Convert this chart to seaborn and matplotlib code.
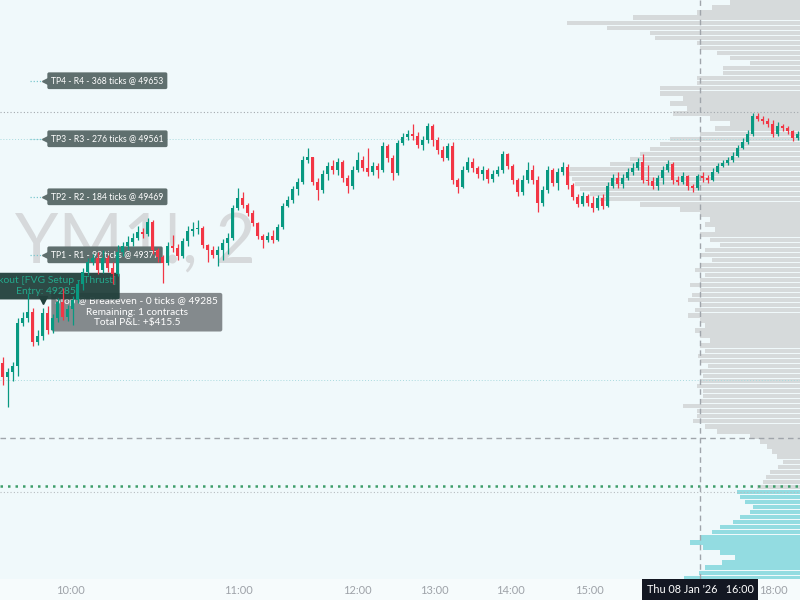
import numpy as np
import pandas as pd
import seaborn as sns
import matplotlib.pyplot as plt

# YM1! 2-minute candles (open = previous close)
first_open = 49205
close = [49183, 49191, 49201, 49269, 49277, 49286, 49239, 49248, 49285, 49258,
         49277, 49302, 49278, 49291, 49305, 49331, 49350, 49365, 49372, 49353,
         49372, 49356, 49346, 49381, 49391, 49397, 49403, 49413, 49410, 49429,
         49384, 49373, 49364, 49391, 49388, 49375, 49399, 49415, 49418, 49419,
         49392, 49384, 49377, 49384, 49396, 49403, 49451, 49467, 49456, 49443,
         49427, 49407, 49400, 49407, 49400, 49421, 49454, 49464, 49481, 49492,
         49527, 49532, 49492, 49480, 49505, 49518, 49511, 49524, 49499, 49486,
         49511, 49527, 49515, 49508, 49518, 49511, 49549, 49530, 49507, 49554,
         49564, 49569, 49565, 49551, 49559, 49581, 49559, 49543, 49530, 49549,
         49495, 49484, 49511, 49524, 49515, 49505, 49511, 49497, 49505, 49511,
         49537, 49518, 49495, 49476, 49495, 49511, 49495, 49459, 49480, 49511,
         49491, 49508, 49516, 49488, 49469, 49457, 49470, 49459, 49451, 49467,
         49454, 49486, 49499, 49489, 49499, 49508, 49515, 49524, 49495, 49494,
         49486, 49499, 49511, 49521, 49495, 49492, 49502, 49486, 49483, 49502,
         49499, 49495, 49508, 49518, 49522, 49527, 49534, 49546, 49556, 49569,
         49597, 49592, 49589, 49584, 49569, 49581, 49578, 49573, 49562, 49569]
high = [49215, 49197, 49207, 49277, 49286, 49316, 49293, 49258, 49293, 49296,
        49283, 49308, 49324, 49297, 49312, 49337, 49356, 49372, 49378, 49381,
        49384, 49377, 49365, 49392, 49397, 49407, 49411, 49423, 49419, 49435,
        49432, 49388, 49377, 49397, 49408, 49394, 49403, 49423, 49429, 49432,
        49423, 49394, 49391, 49391, 49402, 49411, 49456, 49483, 49476, 49459,
        49448, 49429, 49410, 49413, 49416, 49426, 49459, 49470, 49486, 49499,
        49534, 49546, 49530, 49499, 49511, 49524, 49527, 49530, 49527, 49503,
        49518, 49540, 49534, 49546, 49524, 49522, 49556, 49553, 49535, 49559,
        49570, 49575, 49584, 49572, 49565, 49586, 49584, 49564, 49549, 49554,
        49556, 49499, 49518, 49532, 49530, 49518, 49518, 49515, 49511, 49518,
        49542, 49538, 49521, 49499, 49503, 49524, 49519, 49502, 49486, 49518,
        49515, 49515, 49524, 49521, 49491, 49473, 49476, 49473, 49470, 49472,
        49473, 49492, 49505, 49508, 49505, 49515, 49522, 49530, 49537, 49519,
        49500, 49503, 49518, 49527, 49524, 49502, 49508, 49503, 49489, 49505,
        49508, 49503, 49515, 49522, 49527, 49532, 49540, 49551, 49562, 49575,
        49602, 49602, 49597, 49594, 49591, 49588, 49584, 49581, 49575, 49573]
low = [49170, 49136, 49177, 49185, 49264, 49270, 49232, 49234, 49242, 49251,
       49253, 49270, 49274, 49272, 49266, 49300, 49321, 49345, 49361, 49346,
       49348, 49350, 49331, 49343, 49375, 49384, 49391, 49400, 49403, 49407,
       49378, 49365, 49332, 49361, 49381, 49369, 49372, 49391, 49407, 49410,
       49388, 49365, 49372, 49359, 49369, 49378, 49400, 49448, 49451, 49438,
       49423, 49402, 49388, 49397, 49396, 49399, 49418, 49453, 49459, 49472,
       49489, 49522, 49488, 49464, 49475, 49495, 49505, 49503, 49492, 49475,
       49481, 49508, 49510, 49502, 49503, 49499, 49508, 49524, 49495, 49503,
       49551, 49559, 49559, 49546, 49543, 49554, 49549, 49537, 49526, 49527,
       49489, 49475, 49483, 49508, 49508, 49499, 49495, 49491, 49492, 49502,
       49507, 49513, 49489, 49470, 49472, 49491, 49489, 49445, 49454, 49475,
       49486, 49480, 49503, 49481, 49464, 49453, 49454, 49454, 49445, 49448,
       49449, 49453, 49483, 49483, 49483, 49495, 49503, 49511, 49491, 49488,
       49481, 49480, 49489, 49508, 49489, 49488, 49489, 49480, 49476, 49480,
       49492, 49491, 49494, 49507, 49516, 49519, 49524, 49532, 49545, 49553,
       49565, 49589, 49584, 49580, 49564, 49565, 49573, 49569, 49557, 49559]

# volume profile, rows of 8 points from the top of the screen
profile_top = 49777
profile_step = 8
profile_vol = [70, 88, 103, 167, 233, 193, 150, 145, 103, 100,
               83, 70, 50, 77, 77, 103, 103, 140, 140, 117,
               130, 113, 127, 90, 70, 85, 100, 130, 140, 150,
               160, 170, 190, 230, 233, 228, 225, 220, 210, 200,
               160, 120, 100, 90, 95, 85, 100, 90, 80, 95,
               100, 88, 100, 105, 95, 100, 110, 100, 108, 112,
               100, 105, 112, 100, 95, 105, 100, 90, 100, 95,
               102, 100, 92, 100, 97, 100, 103, 97, 97, 100,
               117, 103, 103, 107, 95, 83, 50, 40, 33, 28,
               23, 17, 22, 30, 34, 37, 43, 63, 60, 55,
               47, 50, 60, 67, 80, 88, 100, 110, 97, 80,
               65, 78, 95, 101, 116, 142]
value_area_low = 49011

# trade levels and labels
tp_prices = [49653, 49561, 49469, 49377]
tp_texts = ['TP4 - R4 - 368 ticks @ 49653', 'TP3 - R3 - 276 ticks @ 49561',
            'TP2 - R2 - 184 ticks @ 49469', 'TP1 - R1 - 92 ticks @ 49377']
entry_price = 49285
entry_text = 'Breakout [FVG Setup - Thrust]\nEntry: 49285'
stop_text = 'Stop @ Breakeven - 0 ticks @ 49285\nRemaining: 1 contracts\nTotal P&L: +$415.5'
high_level = 49604
faint_levels = [49561, 49179]
low_level = 49001

time_ticks = [13.5, 47.1, 70.9, 86.3, 101.5, 117.3, 154.1]
time_labels = ['10:00', '11:00', '12:00', '13:00', '14:00', '15:00', '18:00']
cross_bar = 139.5
cross_price = 49087
cross_text = "Thu 08 Jan '26   16:00"

sns.set_theme(style='white')
plt.rcParams['font.family'] = ['Lato', 'DejaVu Sans']

df = pd.DataFrame({'close': close, 'high': high, 'low': low})
df['open'] = df['close'].shift(1).fillna(first_open)
df['high'] = df[['high', 'open', 'close']].max(axis=1)
df['low'] = df[['low', 'open', 'close']].min(axis=1)
up = df['close'] >= df['open']
colors = np.where(up, '#089981', '#F23645')

fig = plt.figure(figsize=(8, 6), dpi=100, facecolor='#F6FBFC')
rect = [0, 21 / 600, 1, 579 / 600]
axp = fig.add_axes(rect)
axp.set_facecolor('#F0F9FB')
ax = fig.add_axes(rect, sharey=axp)
ax.patch.set_visible(False)

# volume profile from the right edge
rows = profile_top - profile_step * np.arange(len(profile_vol))
row_cols = np.where(rows + profile_step / 2 <= value_area_low, '#93DCE1', '#D6DADB')
axp.barh(rows, profile_vol, height=profile_step * 0.86, color=row_cols, lw=0)
axp.set_xlim(800, 0)
axp.set_ylim(48863, 49781)

# horizontal / vertical lines
ax.axhline(high_level, color='#A4A9AE', lw=0.8, ls=(0, (1, 2)), zorder=2)
for p in faint_levels:
    ax.axhline(p, color='#A9DADE', lw=0.7, ls=(0, (1, 2)), zorder=2)
ax.axhline(cross_price, color='#A0A5AB', lw=1, ls=(0, (4, 3)), zorder=2)
ax.axhline(value_area_low, color='#3E9E6A', lw=1.8, ls=(0, (1, 2)), zorder=2)
ax.axhline(low_level, color='#B8BDC1', lw=0.8, ls=(0, (1, 2)), zorder=2)
ax.axvline(cross_bar, color='#A0A5AB', lw=1, ls=(0, (4, 3)), zorder=2)

# watermark
ax.text(0.019, 0.58, 'YM1!, 2', transform=ax.transAxes, fontsize=50,
        color='#D6D9DB', va='center', ha='left', zorder=1)

# TP labels
ytr = ax.get_yaxis_transform()
for p, t in zip(tp_prices, tp_texts):
    ax.plot([0.038, 0.056], [p, p], transform=ytr, color='#7CC9CF', lw=0.9,
            ls=(0, (1, 1.5)), zorder=3)
    ax.plot(0.058, p, marker='<', ms=6, color='#5F6F6E', transform=ytr, zorder=3)
    ax.text(0.064, p, t, transform=ytr, va='center', ha='left', fontsize=6.2,
            color='white', zorder=3,
            bbox=dict(boxstyle='round,pad=0.45,rounding_size=0.2', fc='#5F6F6E', ec='none'))

# stop label and entry label
ax.text(0.171, 49286, stop_text, transform=ytr, ha='center', va='center',
        fontsize=7.3, color='white', linespacing=1.25, zorder=3,
        bbox=dict(boxstyle='round,pad=0.4,rounding_size=0.2', fc='#7C8285', ec='none', alpha=0.93))
ax.text(0.058, 49312, entry_text, transform=ytr, ha='center', va='bottom',
        fontsize=7.5, color='#25A78B', linespacing=1.2, zorder=3,
        bbox=dict(boxstyle='round,pad=0.35,rounding_size=0.2', fc='#22403C', ec='none', alpha=0.95))
ax.plot(0.054, 49306, marker='v', ms=6, color='#22403C', transform=ytr, zorder=3)

# candles
body_bot = df[['open', 'close']].min(axis=1)
body_h = np.maximum((df['close'] - df['open']).abs(), 1.2)
ax.vlines(df.index, df['low'], df['high'], colors=colors, lw=0.9, zorder=5)
ax.bar(df.index, body_h, bottom=body_bot, width=0.7, color=colors, lw=0, zorder=6)

ax.set_xlim(-0.5, 159.5)
ax.set_ylim(48863, 49781)
ax.set_xticks(time_ticks, time_labels)
ax.tick_params(axis='x', length=0, pad=4, labelsize=8, labelcolor='#9EA2A8')
ax.tick_params(axis='y', left=False, labelleft=False)
axp.tick_params(bottom=False, labelbottom=False, left=False, labelleft=False)
for a in (ax, axp):
    for s in a.spines.values():
        s.set_visible(False)

ax.text(cross_bar, -0.018, cross_text, transform=ax.get_xaxis_transform(),
        ha='center', va='center', fontsize=7.8, color='white', clip_on=False, zorder=10,
        bbox=dict(boxstyle='square,pad=0.45', fc='#131722', ec='none'))

fig.savefig('out.png', dpi=100, facecolor=fig.get_facecolor())
